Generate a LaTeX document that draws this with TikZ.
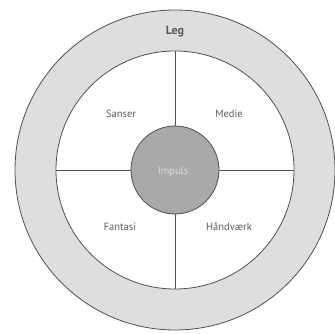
\documentclass[tikz,border=0pt]{standalone}
\usepackage{fontspec}
\setmainfont{PT Sans}
\usepackage{tikz}
\usetikzlibrary{positioning}
\definecolor{legGray}{HTML}{DEDEDE}
\definecolor{impulsGray}{HTML}{A9A9A9}
\definecolor{lineGray}{HTML}{505050}
\definecolor{textGray}{HTML}{5A5A5A}

\begin{document}
\begin{tikzpicture}[x=1pt, y=1pt,
    ring/.style={circle, draw=lineGray, line width=0.8pt, inner sep=0pt},
    lbl/.style={font=\fontsize{10.5}{12}\selectfont, text=textGray}
  ]
    \useasboundingbox (0,0) rectangle (335,334);
    % outer ring (Leg) and inner field
    \node[ring, fill=legGray, minimum size=320pt] (leg) at (175,164) {};
    \node[ring, fill=white, minimum size=238pt] (felt) at (175,164) {};
    % spokes
    \node[ring, fill=impulsGray, minimum size=88pt] (impuls) at (175,164) {};
    \draw[lineGray, line width=0.8pt] (impuls.north) -- (felt.north);
    \draw[lineGray, line width=0.8pt] (impuls.south) -- (felt.south);
    \draw[lineGray, line width=0.8pt] (impuls.west) -- (felt.west);
    \draw[lineGray, line width=0.8pt] (impuls.east) -- (felt.east);
    % labels
    \node[lbl, font=\fontsize{12}{14}\selectfont\bfseries] (tLeg) at (175,302) {Leg};
    \node[lbl] (tSanser) at (121,220) {Sanser};
    \node[lbl] (tMedie) at (229,220) {Medie};
    \node[lbl] (tFantasi) at (120,107) {Fantasi};
    \node[lbl] (tHaand) at (229,107) {Håndværk};
    \node[lbl, text=white!60!impulsGray] (tImpuls) at (173,162) {Impuls};
  \end{tikzpicture}
\end{document}
